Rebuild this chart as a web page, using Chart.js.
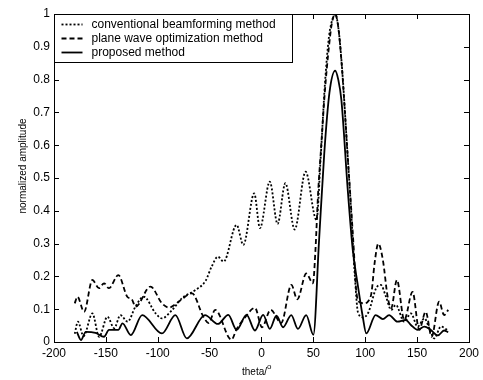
<!DOCTYPE html>
<html>
<head>
<meta charset="utf-8">
<title>normalized amplitude vs theta</title>
<script src="https://cdn.jsdelivr.net/npm/chart.js@4.4.1/dist/chart.umd.min.js"></script>
<style>
    html, body { margin: 0; padding: 0; background: #fff; }
    canvas { display: block; }
</style>
</head>
<body>
<canvas id="beamChart" width="483" height="380"></canvas>
<script>
// Data (theta in degrees, normalized amplitude)
const legendLabels = ['conventional beamforming method', 'plane wave optimization method', 'proposed method'];

const thetaConventional = [-180, -177, -171.5, -163, -156.5, -148.5, -142, -136, -129, -121.5, -113.5, -102, -96, -86, -76.5, -64, -54, -48, -42, -36.5, -24, -17.5, -7, -1.5, 8, 15.5, 23, 32, 42.5, 53, 57, 61, 65, 69, 71, 74, 78, 82, 86, 90, 93, 98, 103, 110.5, 115, 120, 125, 129.5, 137.5, 144, 150.5, 157, 162, 166.5, 173, 180];
const ampConventional = [0.025, 0.062, 0.018, 0.087, 0.016, 0.077, 0.042, 0.082, 0.062, 0.108, 0.138, 0.087, 0.072, 0.098, 0.134, 0.158, 0.186, 0.23, 0.26, 0.245, 0.357, 0.296, 0.453, 0.347, 0.489, 0.36, 0.484, 0.343, 0.519, 0.372, 0.56, 0.78, 0.93, 0.99, 1.0, 0.96, 0.82, 0.62, 0.42, 0.2, 0.09, 0.075, 0.09, 0.164, 0.174, 0.138, 0.098, 0.113, 0.062, 0.087, 0.047, 0.072, 0.04, 0.011, 0.047, 0.035];

const thetaPlaneWave = [-180, -177.4, -171, -163, -156.6, -151.8, -147, -138, -129.4, -125, -121.4, -107, -96, -89, -79, -67, -56, -51, -44.6, -29, -23.9, -17.5, -6.3, 0.5, 8.8, 19, 28.8, 34.5, 43.2, 49.6, 52, 54.5, 57.6, 61, 65, 68, 71, 74, 77, 80, 83, 86.4, 89, 91.2, 94.3, 99, 103, 106, 109, 112.6, 117, 121.6, 125, 130.5, 137.6, 145.6, 152, 158.3, 164, 171.2, 176, 180];
const ampPlaneWave = [0.118, 0.138, 0.092, 0.189, 0.164, 0.179, 0.164, 0.204, 0.138, 0.13, 0.108, 0.169, 0.118, 0.105, 0.125, 0.148, 0.077, 0.058, 0.098, 0.007, 0.04, 0.068, 0.104, 0.045, 0.098, 0.058, 0.174, 0.13, 0.209, 0.179, 0.28, 0.45, 0.6, 0.76, 0.9, 0.975, 1.0, 0.96, 0.86, 0.72, 0.57, 0.41, 0.28, 0.16, 0.122, 0.118, 0.125, 0.15, 0.24, 0.3, 0.25, 0.138, 0.103, 0.189, 0.067, 0.153, 0.037, 0.092, 0.016, 0.123, 0.082, 0.098];

const thetaProposed = [-178, -174, -169.4, -160, -151.8, -147, -138, -134, -126, -115, -96, -83, -72, -54.5, -42, -32, -24, -14.4, -6.3, 1.6, 8, 14.4, 20.8, 28.7, 35.1, 43.1, 50, 55.5, 60.5, 65.5, 71, 74, 77, 83, 88, 92.5, 97.6, 101, 110, 117, 123, 131, 139, 144, 150.5, 157, 163, 170, 176, 180];
const ampProposed = [0.031, 0.006, 0.031, 0.028, 0.016, 0.037, 0.037, 0.057, 0.021, 0.082, 0.026, 0.082, 0.011, 0.082, 0.055, 0.083, 0.037, 0.083, 0.035, 0.083, 0.04, 0.08, 0.045, 0.082, 0.04, 0.082, 0.022, 0.31, 0.575, 0.76, 0.827, 0.8, 0.738, 0.47, 0.28, 0.18, 0.077, 0.026, 0.082, 0.07, 0.082, 0.062, 0.067, 0.052, 0.037, 0.047, 0.037, 0.02, 0.035, 0.03];

const xTicks = [-200, -150, -100, -50, 0, 50, 100, 150, 200];
const yTicks = [0, 0.1, 0.2, 0.3, 0.4, 0.5, 0.6, 0.7, 0.8, 0.9, 1];

const FONT = '"Liberation Sans", Arial, Helvetica, sans-serif';
const dashStyles = [[2, 2], [5, 3], []];

function toPoints(xs, ys) {
    return xs.map((x, i) => ({ x: x, y: ys[i] }));
}

// Box, inward ticks, legend and axis titles
const framePlugin = {
    id: 'frame',
    afterDatasetsDraw(chart) {
        const { ctx, chartArea: a, scales } = chart;
        const tick = 5;
        ctx.save();
        ctx.strokeStyle = '#000';
        ctx.lineWidth = 1;
        ctx.setLineDash([]);
        ctx.beginPath();
        xTicks.forEach(v => {
            const px = Math.round(scales.x.getPixelForValue(v)) + 0.5;
            ctx.moveTo(px, a.bottom); ctx.lineTo(px, a.bottom - tick);
            ctx.moveTo(px, a.top); ctx.lineTo(px, a.top + tick);
        });
        yTicks.forEach(v => {
            const py = Math.round(scales.y.getPixelForValue(v)) + 0.5;
            ctx.moveTo(a.left, py); ctx.lineTo(a.left + tick, py);
            ctx.moveTo(a.right, py); ctx.lineTo(a.right - tick, py);
        });
        ctx.stroke();
        ctx.strokeRect(Math.round(a.left) + 0.5, Math.round(a.top) + 0.5,
            Math.round(a.right - a.left), Math.round(a.bottom - a.top));

        // Legend box in the upper left corner
        const lx = Math.round(a.left) + 0.5, ly = Math.round(a.top) + 0.5;
        const lw = 238, lh = 48;
        ctx.fillStyle = '#fff';
        ctx.fillRect(lx, ly, lw, lh);
        ctx.strokeRect(lx, ly, lw, lh);
        ctx.font = '12px ' + FONT;
        ctx.fillStyle = '#000';
        ctx.textBaseline = 'middle';
        legendLabels.forEach((label, i) => {
            const rowY = ly + 10 + i * 14;
            ctx.beginPath();
            ctx.lineWidth = 1.8;
            ctx.setLineDash(dashStyles[i]);
            ctx.moveTo(lx + 7, rowY);
            ctx.lineTo(lx + 28, rowY);
            ctx.stroke();
            ctx.setLineDash([]);
            ctx.fillText(label, lx + 37, rowY);
        });

        // Axis titles
        ctx.font = '10px ' + FONT;
        ctx.textBaseline = 'alphabetic';
        ctx.textAlign = 'left';
        ctx.fillText('theta/', 242, 375);
        const w = ctx.measureText('theta/').width;
        ctx.font = '8px ' + FONT;
        ctx.fillText('o', 242 + w, 369);

        ctx.font = '10px ' + FONT;
        ctx.translate(26, 166);
        ctx.rotate(-Math.PI / 2);
        ctx.textAlign = 'center';
        ctx.fillText('normalized amplitude', 0, 0);
        ctx.restore();
    }
};

function makeDataset(label, xs, ys, dash) {
    return {
        label: label,
        data: toPoints(xs, ys),
        borderColor: '#000',
        borderWidth: 1.8,
        borderDash: dash,
        pointRadius: 0,
        showLine: true,
        fill: false,
        cubicInterpolationMode: 'monotone'
    };
}

new Chart(document.getElementById('beamChart'), {
    type: 'scatter',
    data: {
        datasets: [
            makeDataset(legendLabels[0], thetaConventional, ampConventional, dashStyles[0]),
            makeDataset(legendLabels[1], thetaPlaneWave, ampPlaneWave, dashStyles[1]),
            makeDataset(legendLabels[2], thetaProposed, ampProposed, dashStyles[2])
        ]
    },
    options: {
        responsive: false,
        animation: false,
        devicePixelRatio: 1,
        layout: { padding: { top: 14, right: 11, left: 0, bottom: 0 } },
        plugins: {
            legend: { display: false },
            tooltip: { enabled: false }
        },
        scales: {
            x: {
                type: 'linear',
                min: -200,
                max: 200,
                afterBuildTicks: scale => { scale.ticks = xTicks.map(v => ({ value: v })); },
                afterFit: scale => { scale.height = 38; },
                grid: { display: false, drawTicks: false },
                border: { display: false },
                ticks: {
                    padding: 4,
                    color: '#000',
                    font: { family: FONT, size: 12 },
                    maxRotation: 0,
                    callback: v => String(v)
                }
            },
            y: {
                min: 0,
                max: 1,
                afterBuildTicks: scale => { scale.ticks = yTicks.map(v => ({ value: v })); },
                afterFit: scale => { scale.width = 54; },
                grid: { display: false, drawTicks: false },
                border: { display: false },
                ticks: {
                    padding: 4,
                    color: '#000',
                    font: { family: FONT, size: 12 },
                    callback: v => String(+v.toFixed(1))
                }
            }
        }
    },
    plugins: [framePlugin]
});
</script>
</body>
</html>
